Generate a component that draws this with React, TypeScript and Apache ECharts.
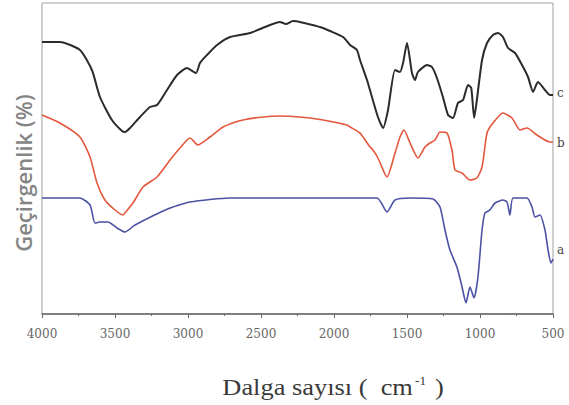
import React, { useEffect, useRef } from "react";
import * as echarts from "echarts";

// Wavenumber ticks
const xTicks = [4000, 3500, 3000, 2500, 2000, 1500, 1000, 500];

// Sample c (black)
const cWave = [4000, 3877, 3740, 3658, 3603, 3521, 3452, 3432, 3397, 3329, 3260, 3212, 3144, 3075, 3007, 2945, 2918, 2870, 2801, 2712, 2575, 2473, 2370, 2329, 2281, 2096, 2027, 1938, 1890, 1843, 1822, 1774, 1740, 1699, 1664, 1630, 1582, 1548, 1527, 1500, 1466, 1445, 1425, 1363, 1329, 1295, 1254, 1219, 1185, 1151, 1116, 1082, 1060, 1040, 1025, 986, 952, 911, 877, 843, 808, 760, 712, 671, 637, 603, 555, 521, 500];
const cTrans = [272, 272, 264, 244, 217, 194, 183, 182, 186, 197, 207, 209, 224, 239, 246, 241, 251, 259, 269, 277, 281, 287, 292, 290, 293, 287, 283, 277, 269, 264, 254, 234, 217, 197, 186, 204, 244, 242, 251, 271, 241, 234, 242, 249, 247, 236, 217, 199, 196, 211, 214, 229, 226, 196, 210, 254, 271, 279, 281, 277, 266, 261, 249, 237, 222, 232, 224, 219, 219];

// Sample b (red)
const bWave = [4000, 3877, 3740, 3671, 3623, 3569, 3500, 3445, 3432, 3377, 3308, 3212, 3123, 3055, 2986, 2932, 2849, 2760, 2623, 2486, 2370, 2233, 2075, 1911, 1890, 1822, 1801, 1753, 1733, 1699, 1637, 1582, 1548, 1521, 1479, 1425, 1377, 1343, 1308, 1274, 1226, 1192, 1171, 1123, 1069, 1021, 986, 952, 911, 843, 781, 726, 678, 610, 521, 500];
const bTrans = [199, 191, 177, 157, 131, 114, 104, 99, 101, 111, 127, 137, 154, 166, 176, 169, 177, 187, 194, 197, 198, 197, 194, 189, 187, 181, 177, 167, 164, 156, 137, 161, 177, 184, 171, 156, 167, 171, 174, 182, 181, 164, 144, 141, 134, 136, 147, 181, 191, 201, 196, 184, 186, 179, 172, 172];

// Sample a (blue)
const aWave = [4000, 3740, 3671, 3637, 3603, 3548, 3486, 3432, 3363, 3123, 2986, 2712, 2027, 1705, 1637, 1582, 1479, 1322, 1274, 1240, 1206, 1158, 1123, 1096, 1069, 1041, 1014, 986, 966, 932, 897, 843, 815, 795, 774, 678, 644, 623, 589, 555, 534, 514, 500];
const aTrans = [116, 116, 109, 91, 92, 92, 86, 82, 89, 106, 112, 116, 116, 116, 102, 114, 116, 115, 107, 84, 64, 47, 27, 11, 27, 16, 37, 84, 101, 104, 111, 114, 112, 99, 116, 116, 107, 97, 99, 84, 64, 51, 55];

const sampleNames = ["a", "b", "c"];

const zip = (w: number[], t: number[]) => w.map((x, i) => [x, t[i]]);

export default function App() {
  const ref = useRef<HTMLDivElement>(null);
  useEffect(() => {
    if (!ref.current) return;
    const chart = echarts.init(ref.current, undefined, { renderer: "svg" });
    const labelStyle = { fontFamily: "DejaVu Serif", fontSize: 12, fill: "#444", verticalAlign: "middle" };
    chart.setOption({
      animation: false,
      backgroundColor: "#ffffff",
      grid: {
        left: 42,
        right: 16,
        top: 3,
        bottom: 91,
        show: true,
        borderColor: "#a0a0a0",
        borderWidth: 1,
      },
      xAxis: {
        type: "value",
        min: 500,
        max: 4000,
        interval: 500,
        inverse: true,
        axisLine: { show: true, lineStyle: { color: "#666", width: 1.5 } },
        axisTick: { show: true, inside: false, length: 4, lineStyle: { color: "#666" } },
        minorTick: { show: true, splitNumber: 2, length: 2, lineStyle: { color: "#666" } },
        splitLine: { show: false },
        axisLabel: {
          fontFamily: "DejaVu Serif",
          fontSize: 12,
          color: "#666",
          margin: 14,
          formatter: (v: number) => (xTicks.includes(v) ? String(v) : ""),
        },
      },
      yAxis: {
        type: "value",
        min: 0,
        max: 311,
        show: false,
      },
      series: [
        {
          name: sampleNames[2],
          type: "line",
          data: zip(cWave, cTrans),
          showSymbol: false,
          smooth: 0.2,
          lineStyle: { color: "#2b2b2b", width: 2 },
        },
        {
          name: sampleNames[1],
          type: "line",
          data: zip(bWave, bTrans),
          showSymbol: false,
          smooth: 0.2,
          lineStyle: { color: "#e4573d", width: 1.6 },
        },
        {
          name: sampleNames[0],
          type: "line",
          data: zip(aWave, aTrans),
          showSymbol: false,
          smooth: 0.2,
          lineStyle: { color: "#4b51a3", width: 1.6 },
        },
      ],
      graphic: [
        {
          type: "text",
          x: 23,
          y: 173,
          rotation: Math.PI / 2,
          style: {
            text: "Geçirgenlik (%)",
            fontFamily: "Open Sans",
            fontWeight: 600,
            fontSize: 22,
            fill: "#858585",
            align: "center",
            verticalAlign: "middle",
          },
        },
        {
          type: "text",
          x: 333,
          y: 387,
          scaleX: 1.1,
          style: {
            text: "{n|Dalga sayısı (  cm}{s|-1}{n| )}",
            align: "center",
            verticalAlign: "middle",
            rich: {
              n: { fontFamily: "Liberation Serif", fontSize: 24, fill: "#3a3a3a" },
              s: { fontFamily: "Liberation Serif", fontSize: 12, fill: "#3a3a3a", verticalAlign: "top", padding: [0, 2, 12, 2] },
            },
          },
        },
        { type: "text", x: 557, y: 93, style: { text: "c", ...labelStyle } },
        { type: "text", x: 557, y: 143, style: { text: "b", ...labelStyle } },
        { type: "text", x: 557, y: 250, style: { text: "a", ...labelStyle } },
      ],
    });
    return () => chart.dispose();
  }, []);
  return <div ref={ref} style={{ width: 569, height: 405, position: "absolute", left: 0, top: 0 }} />;
}
